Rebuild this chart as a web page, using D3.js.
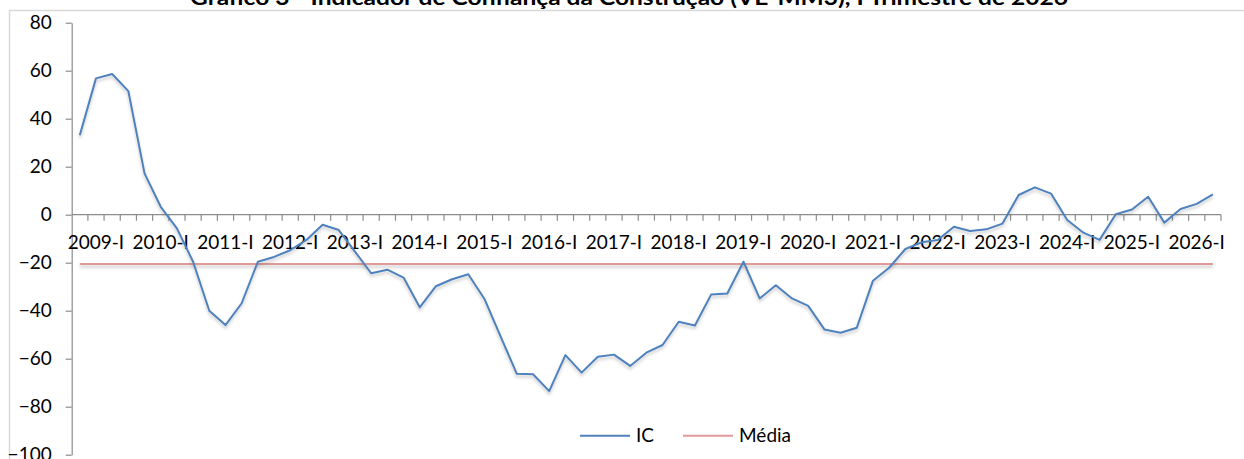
<!DOCTYPE html>
<html>
<head>
<meta charset="utf-8">
<script src="https://cdn.jsdelivr.net/npm/d3@7"></script>
<style>
  body { margin: 0; background: #fff; }
  svg { display: block; }
</style>
</head>
<body>
<div id="chart"></div>
<script>
// Quarters on the category axis (label shown every 4th, starting at 2009-I)
const quarters = [
  "2008-IV",
  "2009-I", "2009-II", "2009-III", "2009-IV",
  "2010-I", "2010-II", "2010-III", "2010-IV",
  "2011-I", "2011-II", "2011-III", "2011-IV",
  "2012-I", "2012-II", "2012-III", "2012-IV",
  "2013-I", "2013-II", "2013-III", "2013-IV",
  "2014-I", "2014-II", "2014-III", "2014-IV",
  "2015-I", "2015-II", "2015-III", "2015-IV",
  "2016-I", "2016-II", "2016-III", "2016-IV",
  "2017-I", "2017-II", "2017-III", "2017-IV",
  "2018-I", "2018-II", "2018-III", "2018-IV",
  "2019-I", "2019-II", "2019-III", "2019-IV",
  "2020-I", "2020-II", "2020-III", "2020-IV",
  "2021-I", "2021-II", "2021-III", "2021-IV",
  "2022-I", "2022-II", "2022-III", "2022-IV",
  "2023-I", "2023-II", "2023-III", "2023-IV",
  "2024-I", "2024-II", "2024-III", "2024-IV",
  "2025-I", "2025-II", "2025-III", "2025-IV",
  "2026-I", "2026-II"
];

// Indicador de Confiança (IC)
const icValues = [
  33.1, 56.8, 58.6, 51.5, 17.2, 3.3, -5.7, -19.6, -40.0, -46.0,
  -36.9, -19.6, -17.6, -14.8, -10.5, -4.2, -6.4, -15.4, -24.4, -22.9,
  -26.2, -38.6, -29.8, -26.9, -24.8, -35.1, -50.8, -66.3, -66.5, -73.5,
  -58.5, -65.8, -59.2, -58.3, -63.0, -57.5, -54.3, -44.6, -46.2, -33.3,
  -32.8, -19.6, -34.9, -29.4, -34.9, -38.0, -47.8, -49.2, -47.1, -27.5,
  -22.1, -14.3, -11.5, -10.5, -5.0, -6.8, -6.1, -3.7, 8.2, 11.4,
  8.8, -2.2, -7.5, -10.5, 0.2, 2.2, 7.5, -3.3, 2.4, 4.5,
  8.5
];

const mediaValue = -20.5;
const yTicks = [-100, -80, -60, -40, -20, 0, 20, 40, 60, 80];
const seriesNames = ["IC", "Média"];
const titleText = "Gráfico 3 - Indicador de Confiança da Construção (VE-MM3), I Trimestre de 2026";

const svgWidth = 1244;
const svgHeight = 459;
const plot = { left: 71.7, right: 1221, top: 22.7, bottom: 454.7 };
const blue = "#4f81bd";
const red = "#e09a98";
const axisColor = "#8c8c8c";
const font = "Lato, 'Open Sans', sans-serif";

const svg = d3.select("#chart").append("svg")
    .attr("width", svgWidth)
    .attr("height", svgHeight);

// soft shadow like the spreadsheet lines (user space so flat lines keep it)
const filter = svg.append("defs").append("filter")
    .attr("id", "shadow")
    .attr("filterUnits", "userSpaceOnUse")
    .attr("x", 0).attr("y", 0)
    .attr("width", svgWidth).attr("height", svgHeight);
filter.append("feDropShadow")
    .attr("dx", 0).attr("dy", 2.5)
    .attr("stdDeviation", 1.6)
    .attr("flood-color", "#000")
    .attr("flood-opacity", 0.22);

// outer frame of chart area
svg.append("rect")
    .attr("x", 9.5).attr("y", 10.5)
    .attr("width", 1400).attr("height", 600)
    .attr("fill", "none")
    .attr("stroke", "#d9d9d9")
    .attr("stroke-width", 1.5);

// Title (cut at the top like the reference)
svg.append("text")
    .attr("x", 629)
    .attr("y", 5)
    .attr("text-anchor", "middle")
    .attr("textLength", 878)
    .attr("lengthAdjust", "spacingAndGlyphs")
    .style("font-family", font)
    .style("font-weight", "bold")
    .style("font-size", "20px")
    .style("fill", "#000")
    .text(titleText);

const xScale = d3.scaleBand()
    .domain(quarters)
    .range([plot.left, plot.right])
    .padding(0);

const yScale = d3.scaleLinear()
    .domain([-100, 80])
    .range([plot.bottom, plot.top]);

const bw = xScale.bandwidth();

// Y axis
const yAxis = svg.append("g")
    .attr("transform", `translate(${plot.left},0)`)
    .call(d3.axisLeft(yScale).tickValues(yTicks).tickSize(6).tickSizeOuter(0).tickPadding(14));
yAxis.select(".domain").attr("stroke", axisColor).attr("stroke-width", 1.2);
yAxis.selectAll(".tick line").attr("stroke", axisColor).attr("stroke-width", 1.2);
yAxis.selectAll(".tick text")
    .style("font-family", font)
    .style("font-size", "19px")
    .style("fill", "#000");

// X axis at zero, ticks between categories
const y0 = yScale(0);
const xAxis = svg.append("g");
xAxis.append("line")
    .attr("x1", plot.left).attr("x2", plot.right)
    .attr("y1", y0).attr("y2", y0)
    .attr("stroke", axisColor).attr("stroke-width", 1.2);
const boundaries = quarters.map(q => xScale(q)).concat([xScale(quarters[quarters.length - 1]) + bw]);
xAxis.selectAll("line.tick")
    .data(boundaries.slice(1))
    .enter().append("line")
    .attr("class", "tick")
    .attr("x1", d => d).attr("x2", d => d)
    .attr("y1", y0).attr("y2", y0 + 6)
    .attr("stroke", axisColor).attr("stroke-width", 1.2);
xAxis.selectAll("text")
    .data(quarters.filter((q, i) => i % 4 === 1))
    .enter().append("text")
    .attr("x", d => xScale(d) + bw / 2)
    .attr("y", y0 + 34)
    .attr("text-anchor", "middle")
    .style("font-family", font)
    .style("font-size", "19px")
    .style("fill", "#000")
    .text(d => d);

// Média line
const mediaLine = d3.line()
    .x(d => xScale(d) + bw / 2)
    .y(() => yScale(mediaValue));
svg.append("path")
    .datum([quarters[0], quarters[quarters.length - 1]])
    .attr("d", mediaLine)
    .attr("fill", "none")
    .attr("stroke", red)
    .attr("stroke-width", 2)
    .attr("filter", "url(#shadow)");

// IC line
const icLine = d3.line()
    .x((d, i) => xScale(quarters[i]) + bw / 2)
    .y(d => yScale(d));
svg.append("path")
    .datum(icValues)
    .attr("d", icLine)
    .attr("fill", "none")
    .attr("stroke", blue)
    .attr("stroke-width", 2)
    .attr("stroke-linejoin", "round")
    .attr("filter", "url(#shadow)");

// Legend
const legend = svg.append("g");
const legendItems = [
    { name: seriesNames[0], color: blue, x: 580 },
    { name: seriesNames[1], color: red, x: 683 }
];
legendItems.forEach(item => {
    legend.append("line")
        .attr("x1", item.x).attr("x2", item.x + 50)
        .attr("y1", 435.7).attr("y2", 435.7)
        .attr("stroke", item.color)
        .attr("stroke-width", 2);
    legend.append("text")
        .attr("x", item.x + 56)
        .attr("y", 435.7)
        .attr("dy", "0.35em")
        .style("font-family", font)
        .style("font-size", "19px")
        .style("fill", "#000")
        .text(item.name);
});
</script>
</body>
</html>
